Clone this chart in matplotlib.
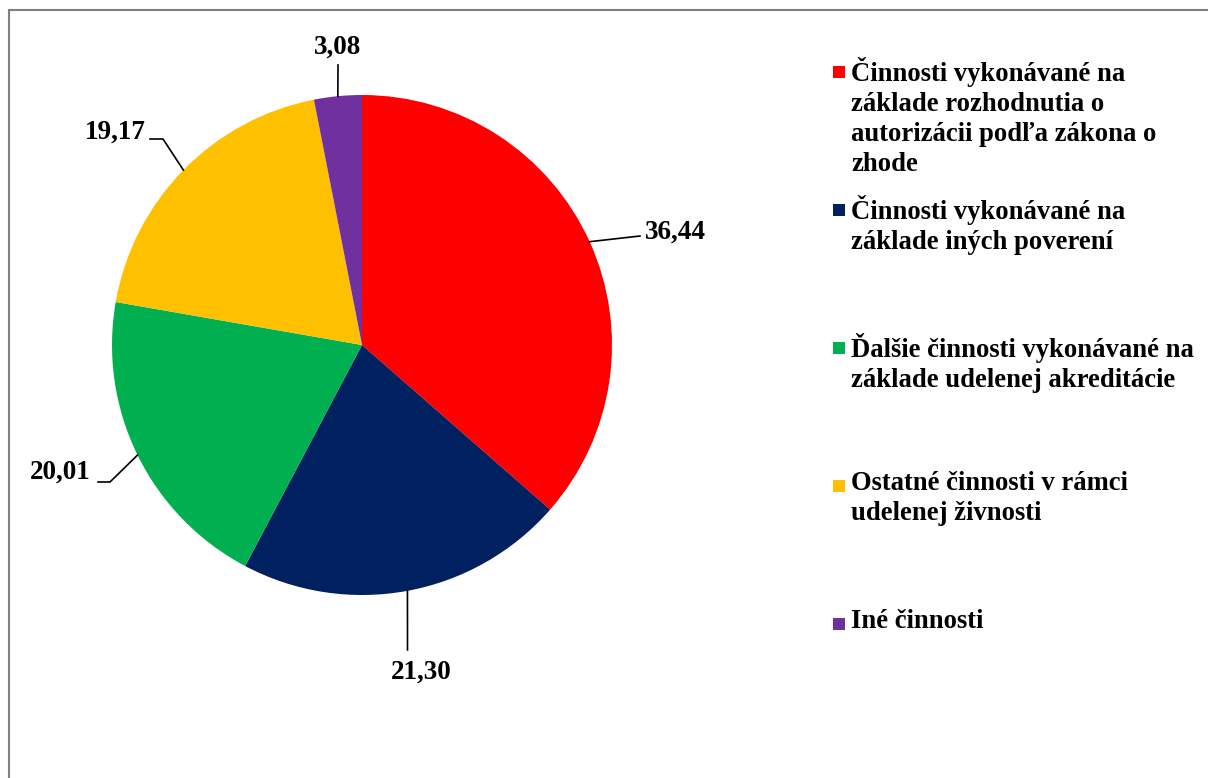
import textwrap
import numpy as np
import matplotlib.pyplot as plt
from matplotlib.patches import Rectangle

# share of activities (percent)
categories = [
    'Činnosti vykonávané na základe rozhodnutia o autorizácii podľa zákona o zhode',
    'Činnosti vykonávané na základe iných poverení',
    'Ďalšie činnosti vykonávané na základe udelenej akreditácie',
    'Ostatné činnosti v rámci udelenej živnosti',
    'Iné činnosti',
]
values = [36.44, 21.30, 20.01, 19.17, 3.08]
colors = ['#FF0000', '#002060', '#00B050', '#FFC000', '#7030A0']

plt.rcParams['font.family'] = ['Liberation Serif', 'DejaVu Serif']
plt.rcParams['font.weight'] = 'bold'

fig = plt.figure(figsize=(12.08, 7.78), dpi=100)

# grey frame, open at the right and bottom like the original crop
fig.patches.append(Rectangle((9 / 1208, -0.1), 1.2, 1 - 10 / 778 + 0.1,
                             transform=fig.transFigure, fill=False,
                             edgecolor='#808080', linewidth=1.5))

ax = fig.add_axes([112 / 1208, 183 / 778, 500 / 1208, 500 / 778])
wedges, _ = ax.pie(values, colors=colors, startangle=90, counterclock=False,
                   radius=1, wedgeprops=dict(linewidth=0))
ax.set_xlim(-1, 1)
ax.set_ylim(-1, 1)
ax.set_aspect('equal')
ax.axis('off')

# data labels with leader lines: (elbow, end of line, text position, ha)
label_layout = [
    ((1.112, 0.436), (1.112, 0.436), (1.13, 0.45), 'left'),
    ((0.182, -1.22), (0.182, -1.22), (0.235, -1.31), 'center'),
    ((-1.008, -0.548), (-1.056, -0.548), (-1.085, -0.51), 'right'),
    ((-0.796, 0.824), (-0.848, 0.824), (-0.865, 0.85), 'right'),
    ((-0.096, 1.12), (-0.096, 1.12), (-0.096, 1.19), 'center'),
]
for w, v, (elbow, end, txt, ha) in zip(wedges, values, label_layout):
    ang = np.deg2rad((w.theta1 + w.theta2) / 2)
    x0, y0 = np.cos(ang), np.sin(ang)
    ax.plot([x0, elbow[0], end[0]], [y0, elbow[1], end[1]], color='black',
            linewidth=1.2, clip_on=False)
    ax.text(txt[0], txt[1], f'{v:.2f}'.replace('.', ','), ha=ha, va='center',
            fontsize=19.5, fontweight='bold', clip_on=False)

# legend drawn by hand, entries evenly spaced like in Excel
y_first = 1 - 72 / 778
step = 138 / 778
for i, (cat, c) in enumerate(zip(categories, colors)):
    y = y_first - i * step
    fig.patches.append(Rectangle((833 / 1208, y - 6 / 778), 12 / 1208, 12 / 778,
                                 transform=fig.transFigure, facecolor=c,
                                 edgecolor='none'))
    fig.text(851 / 1208, y + 15 / 778, textwrap.fill(cat, 29), ha='left',
             va='top', fontsize=19.2, fontweight='bold', linespacing=1.27)

fig.savefig('out.png', dpi=100)
